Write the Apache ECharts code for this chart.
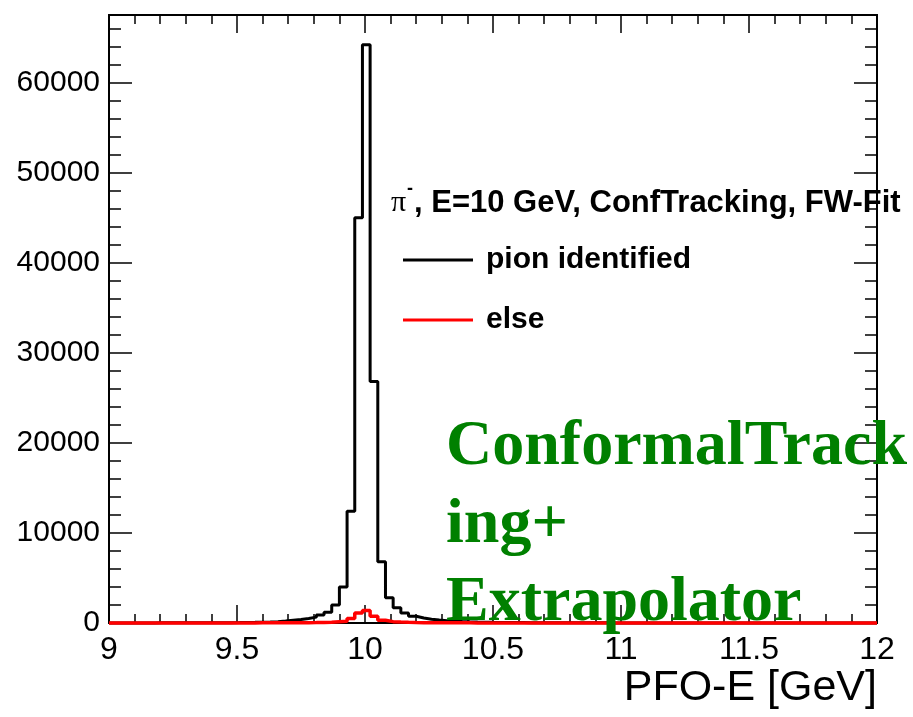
<!DOCTYPE html>
<html>
<head>
<meta charset="utf-8">
<script src="https://cdn.jsdelivr.net/npm/echarts@6/dist/echarts.min.js"></script>
<style>
html,body{margin:0;padding:0;background:#fff;}
#chart{width:913px;height:717px;}
</style>
</head>
<body>
<div id="chart"></div>
<script>
// Histogram binning (100 bins from 9 to 12 GeV)
var xMin = 9, xMax = 12, binWidth = 0.03;
var yMax = 67500;
var xTickValues = [9, 9.5, 10, 10.5, 11, 11.5, 12];
var yTickValues = [0, 10000, 20000, 30000, 40000, 50000, 60000];
var seriesNames = ['pion identified', 'else'];

// Entries per bin: pion identified
var pionCounts = [
  8, 9, 10, 11, 12, 13, 14, 15, 17, 19,
  21, 23, 26, 29, 33, 40, 48, 58, 70, 85,
  110, 150, 220, 310, 400, 500, 650, 900, 1200, 2000,
  4000, 12400, 45000, 64200, 26800, 6800, 2800, 1700, 1100, 750,
  550, 420, 330, 260, 210, 170, 140, 115, 95, 80,
  68, 58, 50, 44, 38, 33, 29, 26, 23, 20,
  18, 17, 16, 15, 14, 13, 12, 12, 11, 10,
  10, 9, 9, 8, 8, 7, 7, 7, 6, 6,
  6, 5, 5, 5, 5, 4, 4, 4, 4, 4,
  3, 3, 3, 3, 3, 3, 3, 2, 2, 2
];
// Entries per bin: else
var elseCounts = [
  3, 3, 3, 4, 4, 4, 5, 5, 5, 6,
  6, 7, 7, 8, 8, 9, 10, 11, 12, 14,
  16, 18, 21, 25, 30, 35, 45, 60, 90, 150,
  200, 500, 1100, 1400, 750, 300, 150, 100, 70, 50,
  40, 32, 26, 22, 19, 16, 14, 12, 11, 10,
  9, 9, 8, 8, 8, 7, 7, 7, 6, 6,
  6, 6, 5, 5, 5, 5, 5, 4, 4, 4,
  4, 4, 4, 4, 3, 3, 3, 3, 3, 3,
  3, 3, 3, 3, 3, 2, 2, 2, 2, 2,
  2, 2, 2, 2, 2, 2, 2, 2, 2, 2
];

function stepData(counts) {
  var out = [];
  for (var i = 0; i < counts.length; i++) {
    var lo = +(xMin + i * binWidth).toFixed(6);
    var hi = +(xMin + (i + 1) * binWidth).toFixed(6);
    out.push([lo, counts[i]]);
    out.push([hi, counts[i]]);
  }
  return out;
}

var FONT = "'Liberation Sans', Arial, Helvetica, sans-serif";
var SERIF = "'Liberation Serif', 'Times New Roman', serif";
var tickLine = {color: '#000', width: 1.5};
var axisLine = {show: true, onZero: false, lineStyle: {color: '#000', width: 2}};

function xAxisDef(pos, labels) {
  return {
    type: 'value', min: xMin, max: xMax, interval: 0.5, position: pos,
    axisLine: axisLine,
    axisTick: {show: true, inside: true, length: 18, lineStyle: tickLine},
    minorTick: {show: true, splitNumber: 5, length: 9, lineStyle: tickLine},
    splitLine: {show: false}, minorSplitLine: {show: false},
    axisLabel: labels ? {
      show: true, fontSize: 32, fontFamily: FONT, color: '#000', margin: 11,
      formatter: function (v) { return xTickValues.indexOf(v) >= 0 ? String(v) : ''; }
    } : {show: false},
    name: labels ? 'PFO-E [GeV]' : '',
    nameLocation: 'end', nameGap: 0,
    nameTextStyle: {fontSize: 43, fontFamily: FONT, color: '#000', align: 'right', verticalAlign: 'top', padding: [44, 0, 0, 0]}
  };
}
function yAxisDef(pos, interval, len, labels) {
  return {
    type: 'value', min: 0, max: yMax, interval: interval, position: pos,
    axisLine: axisLine,
    axisTick: {show: true, inside: true, length: len, lineStyle: tickLine},
    splitLine: {show: false},
    axisLabel: labels ? {
      show: true, fontSize: 30, fontFamily: FONT, color: '#000', margin: 9,
      showMaxLabel: false,
      formatter: function (v) { return yTickValues.indexOf(v) >= 0 ? String(v) : ''; }
    } : {show: false}
  };
}

var chart = echarts.init(document.getElementById('chart'), null, {renderer: 'canvas'});
chart.setOption({
  backgroundColor: '#fff',
  animation: false,
  grid: {left: 109, right: 36, top: 15, bottom: 94, containLabel: false},
  xAxis: [xAxisDef('bottom', true), xAxisDef('top', false)],
  yAxis: [
    yAxisDef('left', 10000, 23, true),
    yAxisDef('left', 2000, 12, false),
    yAxisDef('right', 10000, 23, false),
    yAxisDef('right', 2000, 12, false)
  ],
  legend: {
    left: 398, top: 240, orient: 'vertical', icon: 'rect',
    itemWidth: 70, itemHeight: 3, itemGap: 30,
    textStyle: {fontSize: 30, fontWeight: 'bold', fontFamily: FONT, color: '#000', padding: [0, 0, 0, 8]},
    data: seriesNames
  },
  graphic: [
    {type: 'text', left: 391, top: 188, style: {text: 'π', font: '30px ' + SERIF, fill: '#000'}},
    {type: 'text', left: 407, top: 180, style: {text: '-', font: 'bold 18px ' + FONT, fill: '#000'}},
    {type: 'text', left: 414, top: 188, style: {text: ', E=10 GeV, ConfTracking, FW-Fit', font: 'bold 31px ' + FONT, fill: '#000'}},
    {type: 'text', left: 446, top: 415, z: 10, style: {text: 'ConformalTrack', font: 'bold 64px ' + SERIF, fill: '#008000'}},
    {type: 'text', left: 446, top: 493, z: 10, style: {text: 'ing+', font: 'bold 64px ' + SERIF, fill: '#008000'}},
    {type: 'text', left: 446, top: 571, z: 10, style: {text: 'Extrapolator', font: 'bold 64px ' + SERIF, fill: '#008000'}}
  ],
  series: [
    {
      name: seriesNames[0], type: 'line', xAxisIndex: 0, yAxisIndex: 0,
      data: stepData(pionCounts), symbol: 'none', clip: false,
      lineStyle: {color: '#000', width: 3}, itemStyle: {color: '#000'}, z: 3
    },
    {
      name: seriesNames[1], type: 'line', xAxisIndex: 0, yAxisIndex: 0,
      data: stepData(elseCounts), symbol: 'none', clip: false,
      lineStyle: {color: '#ff0000', width: 3.5}, itemStyle: {color: '#ff0000'}, z: 4
    }
  ]
});
</script>
</body>
</html>
